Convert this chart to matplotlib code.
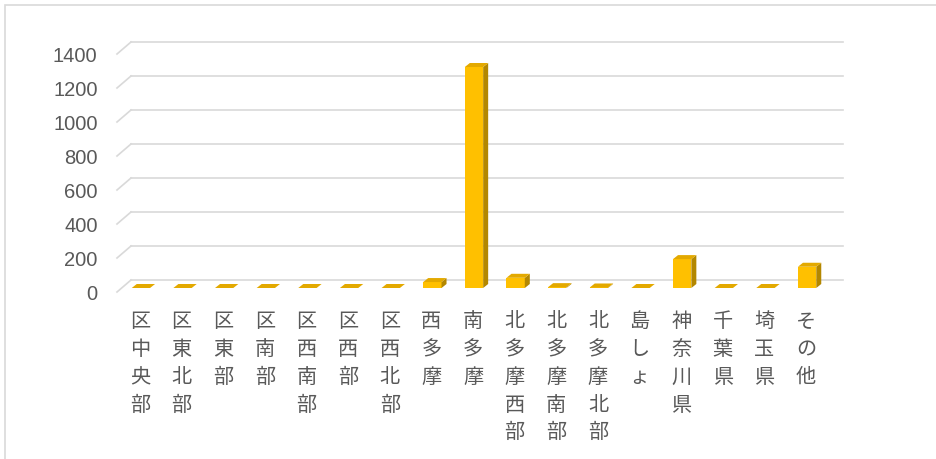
import numpy as np
import matplotlib
matplotlib.use('Agg')
import matplotlib.pyplot as plt
from matplotlib.patches import Polygon, Rectangle
from matplotlib.lines import Line2D

plt.rcParams['font.family'] = ['Noto Sans CJK JP', 'DejaVu Sans']

# データ
areas = ['区中央部', '区東北部', '区東部', '区南部', '区西南部', '区西部', '区西北部',
         '西多摩', '南多摩', '北多摩西部', '北多摩南部', '北多摩北部', '島しょ',
         '神奈川県', '千葉県', '埼玉県', 'その他']
counts = [0, 0, 0, 0, 0, 0, 0, 35, 1300, 60, 5, 3, 0, 170, 0, 0, 125]
yticks = [0, 200, 400, 600, 800, 1000, 1200, 1400]

W, H = 937, 459
fig = plt.figure(figsize=(W / 100, H / 100), dpi=100)
fig.patches.append(Rectangle((5 / W, -0.1), 1.2, (H - 5) / H + 0.1, transform=fig.transFigure,
                             fill=False, edgecolor='#d9d9d9', lw=1.2))

# 前面の座標系（ピクセル）
left, right, bottom, top = 117, 829, 292, 54
ax = fig.add_axes([left / W, 1 - bottom / H, (right - left) / W, (bottom - top) / H])
xmin, xmax = -0.55, 16.55
ax.set_xlim(xmin, xmax)
ax.set_ylim(0, 1400)
for s in ax.spines.values():
    s.set_visible(False)
ax.patch.set_visible(False)

px_x = (xmax - xmin) / (right - left)
px_y = 1400 / (bottom - top)

# 奥の目盛線と斜めの線
gdx, gdy = 14 * px_x, 12 * px_y
for v in yticks:
    ax.add_line(Line2D([xmin + gdx, xmax + gdx], [v + gdy, v + gdy], color='#d9d9d9', lw=1.2, clip_on=False))
    ax.add_line(Line2D([xmin, xmin + gdx], [v, v + gdy], color='#d9d9d9', lw=1.2, clip_on=False))

# 3D風の棒
w = 0.44
bdx, bdy = 5 * px_x, 4 * px_y
ox, oy = 1 * px_x, 4 * px_y
x = np.arange(len(areas))
ax.bar(x + ox, counts, width=w, bottom=oy, color='#FFC000', zorder=3)
for xi, v in zip(x, counts):
    x0, x1 = xi + ox - w / 2, xi + ox + w / 2
    y0, y1 = oy, oy + v
    side = [(x1, y0), (x1 + bdx, y0 + bdy), (x1 + bdx, y1 + bdy), (x1, y1)]
    topf = [(x0, y1), (x1, y1), (x1 + bdx, y1 + bdy), (x0 + bdx, y1 + bdy)]
    ax.add_patch(Polygon(side, closed=True, facecolor='#B38700', edgecolor='none', zorder=3))
    ax.add_patch(Polygon(topf, closed=True, facecolor='#E3A900', edgecolor='none', zorder=3))

ax.set_yticks(yticks)
ax.set_yticklabels([str(t) for t in yticks], family=['Liberation Sans'], fontsize=14.5, color='#595959')
ax.set_xticks(x)
ax.set_xticklabels(['\n'.join(a) for a in areas], fontsize=14.5, color='#595959',
                   linespacing=1.42, va='top')
ax.tick_params(axis='y', length=0, pad=14)
ax.tick_params(axis='x', length=0, pad=14)

fig.savefig('out.png', dpi=100, facecolor='white')
